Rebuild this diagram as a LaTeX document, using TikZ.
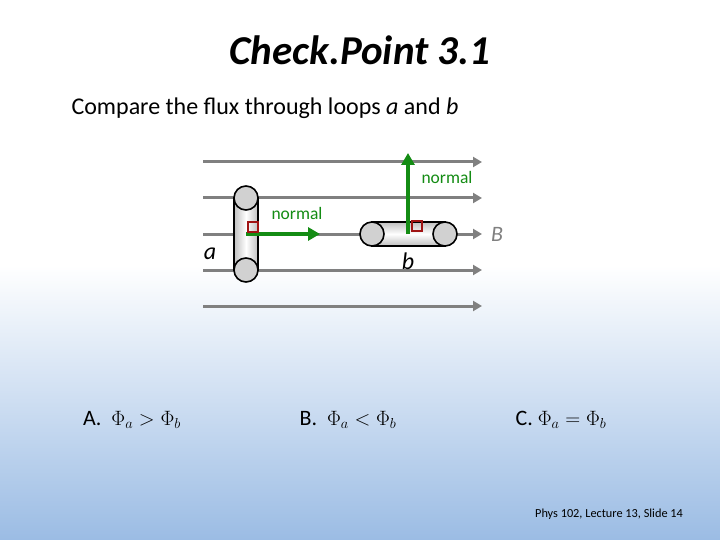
\documentclass[tikz,border=0pt]{standalone}
\usepackage{fontspec}
\setmainfont{Carlito}
\usetikzlibrary{arrows.meta}
\definecolor{bfield}{RGB}{128,128,128}
\definecolor{grn}{RGB}{20,140,20}
\definecolor{dred}{RGB}{160,20,20}
\definecolor{bgblue}{RGB}{155,188,228}
\begin{document}
\begin{tikzpicture}[x=1pt,y=-1pt,
 fline/.style={draw=bfield,line width=3pt,-{Triangle[length=9pt,width=10pt]}},
 nrm/.style={draw=grn,line width=3.5pt,-{Triangle[length=12pt,width=13pt]}},
 rsq/.style={draw=dred,line width=1.6pt,minimum size=10pt,inner sep=0pt},
 endcap/.style={circle,draw=black,line width=1.6pt,fill=black!18,minimum size=24pt,inner sep=0pt},
 lbl/.style={text=black}]
\useasboundingbox (0,0) rectangle (720,540);
\fill[white] (0,0) rectangle (720,265);
\shade[top color=white,bottom color=bgblue] (0,265) rectangle (720,540);
\node (title) at (360,50) {\fontsize{41}{46}\selectfont\bfseries\itshape Check.Point 3.1};
\node[anchor=west] (q) at (68,108) {\fontsize{24}{28}\selectfont Compare the flux through loops \textit{a} and \textit{b}};
% field lines
\foreach \i/\y in {1/162,2/198,3/234,4/270,5/306}{
 \coordinate (fs\i) at (203,\y); \coordinate (fe\i) at (482,\y);
 \draw[fline] (fs\i) -- (fe\i);}
\node[text=bfield,font=\fontsize{22}{24}\selectfont\itshape] (B) at (497,234) {B};
% loop a
\shade[left color=black!25,right color=black!25,middle color=white,draw=black,line width=1.6pt] (234,198) rectangle (258,270);
\node[endcap] (ab) at (246,270) {};
\node[endcap] (at) at (246,198) {};
\draw[nrm] (246,234) -- (320,234);
\node[text=grn,font=\fontsize{17.5}{19}\selectfont] (na) at (297,213) {normal};
\node[rsq] (sa) at (253,227) {};
\node[lbl,font=\fontsize{24}{26}\selectfont\itshape] (la) at (210,254) {a};
% loop b
\shade[top color=black!25,bottom color=black!25,middle color=white,draw=black,line width=1.6pt] (372,222) rectangle (445,246);
\node[endcap] (bl) at (372,234) {};
\node[endcap] (br) at (445,234) {};
\draw[nrm] (408,234) -- (408,153);
\node[text=grn,font=\fontsize{17.5}{19}\selectfont] (nb) at (447,177) {normal};
\node[rsq] (sb) at (417,226) {};
\node[lbl,font=\fontsize{24}{26}\selectfont\itshape] (lb) at (408,261) {b};
% answers
\node (A) at (132,420) {\fontsize{22}{26}\selectfont A.\ \ $\Phi_a > \Phi_b$};
\node (Bans) at (348,420) {\fontsize{22}{26}\selectfont B.\ \ $\Phi_a < \Phi_b$};
\node (C) at (561,420) {\fontsize{22}{26}\selectfont C.\ $\Phi_a = \Phi_b$};
\node (foot) at (609,514) {\fontsize{12.3}{14}\selectfont Phys 102, Lecture 13, Slide 14};
\end{tikzpicture}
\end{document}
